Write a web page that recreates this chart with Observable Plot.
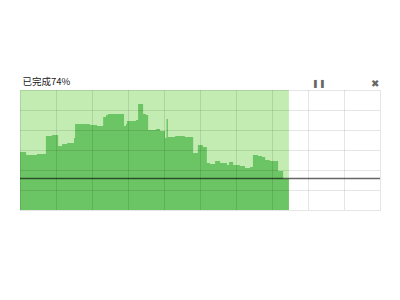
<!DOCTYPE html>
<html>
<head>
<meta charset="utf-8">
<script src="https://cdn.jsdelivr.net/npm/d3@7"></script>
<script src="https://cdn.jsdelivr.net/npm/@observablehq/plot@0.6"></script>
<style>
  html, body { margin: 0; padding: 0; background: #fff; }
  #chart svg { display: block; }
</style>
</head>
<body>
<div id="chart"></div>
<script>
// progress (percent of the full run) and the series value at each step
const progress = [0, 1.7, 4.7, 7.2, 8.9, 10.6, 11.7, 13.1, 15.0, 15.3, 19.4, 21.4, 23.1, 23.9, 24.4,
  28.9, 29.4, 29.7, 32.2, 32.8, 34.2, 35.0, 35.6, 37.8, 38.9, 40.3, 40.7, 41.1, 43.1, 45.8,
  48.1, 49.4, 50.8, 51.9, 52.8, 54.2, 55.6, 57.5, 58.1, 59.2, 61.1, 62.5, 63.9, 64.7, 66.1,
  67.2, 68.1, 69.4, 71.7, 73.1, 74.7];
const values = [58, 55, 56, 74, 75, 64, 66, 67, 72, 86, 85, 84, 93, 95, 96,
  84, 86, 89, 90, 106, 96, 95, 80, 81, 79, 72, 91, 73, 74, 73,
  57, 65, 63, 47, 46, 49, 47, 45, 48, 45, 44, 42, 43, 55, 54,
  53, 50, 49, 39, 31, 31];
const doneUntil = [74.7];
const baseline = [32];
const titleText = ["已完成74%"];
const pauseIcon = ["❚❚"];
const closeIcon = ["✖"];

const series = progress.map((p, i) => ({p, v: values[i]}));

const chart = Plot.plot({
  width: 400,
  height: 300,
  marginTop: 90,
  marginLeft: 20,
  marginRight: 20,
  marginBottom: 90,
  x: {domain: [0, 100], axis: null},
  y: {domain: [0, 120], axis: null},
  style: {fontFamily: "'Noto Sans CJK SC', 'Noto Sans', sans-serif", background: "#fff"},
  marks: [
    Plot.rect(doneUntil, {x1: 0, x2: d => d, y1: 0, y2: 120, fill: "#c3ecb3"}),
    Plot.areaY(series, {x: "p", y: "v", curve: "step-after", fill: "#6cc564"}),
    Plot.gridX({ticks: d3.range(10, 100, 10), stroke: "#000", strokeOpacity: 0.1}),
    Plot.gridY({ticks: d3.range(20, 120, 20), stroke: "#000", strokeOpacity: 0.1}),
    Plot.frame({stroke: "#000", strokeOpacity: 0.1}),
    Plot.ruleY(baseline, {stroke: "#000", strokeOpacity: 0.6, strokeWidth: 1.6}),
    Plot.text(titleText, {text: d => d, frameAnchor: "top-left", dx: 2, dy: -9, textAnchor: "start", lineAnchor: "middle", fontSize: 9.5, fill: "#222"}),
    Plot.text(pauseIcon, {text: d => d, frameAnchor: "top-right", dx: -62, dy: -7, textAnchor: "middle", lineAnchor: "middle", fontSize: 7.5, fill: "#666"}),
    Plot.text(closeIcon, {text: d => d, frameAnchor: "top-right", dx: -6, dy: -7, textAnchor: "middle", lineAnchor: "middle", fontSize: 10, fill: "#666"})
  ]
});
document.getElementById("chart").appendChild(chart);
</script>
</body>
</html>
